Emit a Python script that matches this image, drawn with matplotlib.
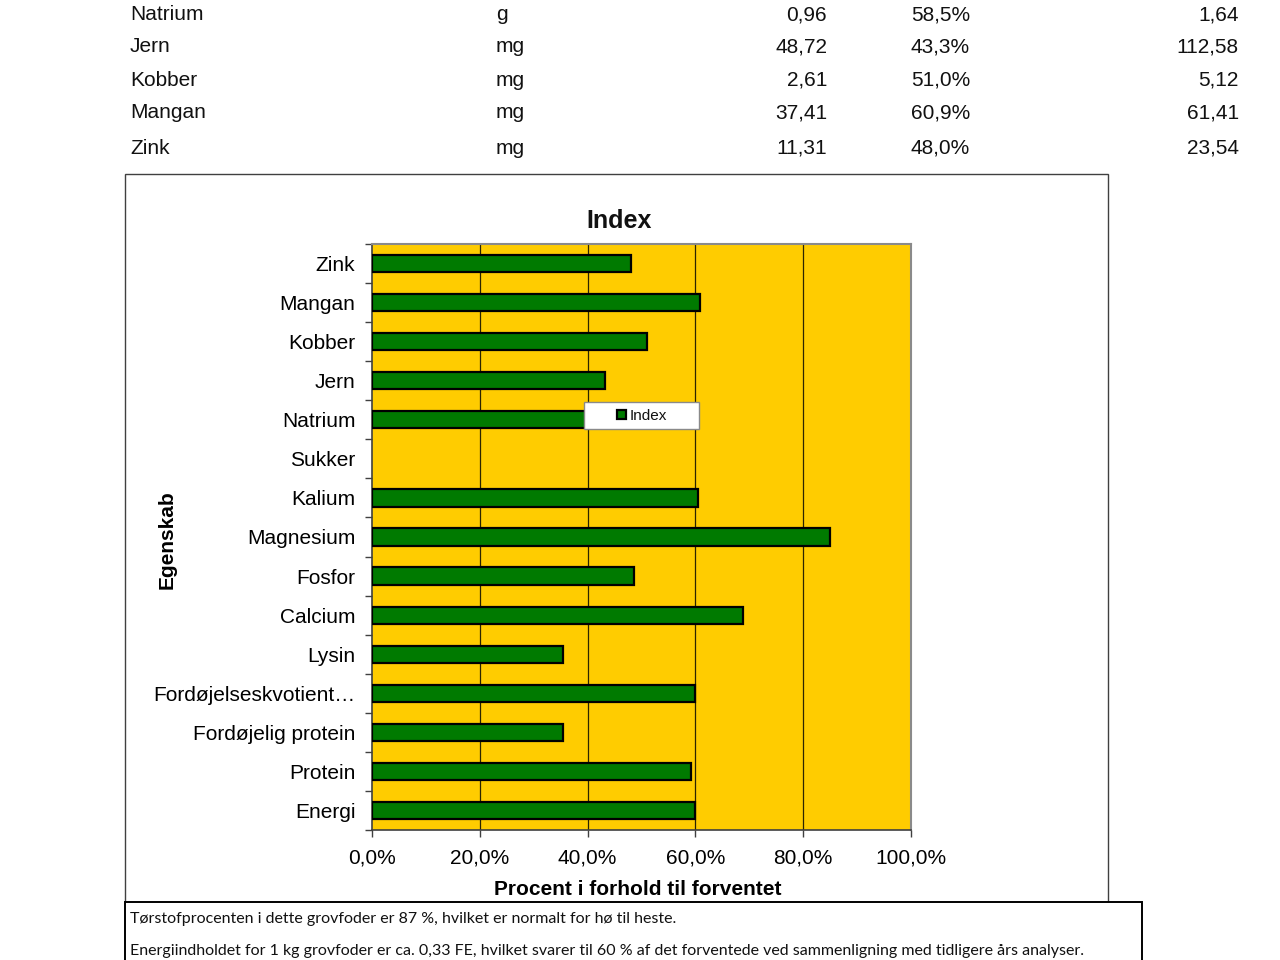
import matplotlib as mpl
import matplotlib.pyplot as plt
from matplotlib.patches import Rectangle
from matplotlib.ticker import FixedLocator, FuncFormatter

# chart data (bottom to top)
categories = [
    "Energi", "Protein", "Fordøjelig protein", "Fordøjelseskvotient…", "Lysin",
    "Calcium", "Fosfor", "Magnesium", "Kalium", "Sukker",
    "Natrium", "Jern", "Kobber", "Mangan", "Zink",
]
index_pct = [60.0, 59.2, 35.4, 60.0, 35.4, 68.9, 48.6, 85.0, 60.4, 0.0,
             58.5, 43.3, 51.0, 60.9, 48.0]
xticks_pct = [0, 20, 40, 60, 80, 100]

# table rows above the chart
tbl_names = ["Natrium", "Jern", "Kobber", "Mangan", "Zink"]
tbl_units = ["g", "mg", "mg", "mg", "mg"]
tbl_values = ["0,96", "48,72", "2,61", "37,41", "11,31"]
tbl_pct = ["58,5%", "43,3%", "51,0%", "60,9%", "48,0%"]
tbl_expected = ["1,64", "112,58", "5,12", "61,41", "23,54"]

note_lines = [
    "Tørstofprocenten i dette grovfoder er 87 %, hvilket er normalt for hø til heste.",
    "Energiindholdet for 1 kg grovfoder er ca. 0,33 FE, hvilket svarer til 60 % af det "
    "forventede ved sammenligning med tidligere års analyser.",
]

W, H = 1280, 960


def px_axes(fig, x0, y0, x1, y1, **kw):
    return fig.add_axes([x0 / W, 1 - y1 / H, (x1 - x0) / W, (y1 - y0) / H], **kw)


def draw_page(fig):
    bg = px_axes(fig, 0, 0, W, H, zorder=-1)
    bg.set_xlim(0, W)
    bg.set_ylim(H, 0)
    bg.axis("off")

    row_y = [15, 47, 80, 113, 148]
    for y, n, u, v, p, e in zip(row_y, tbl_names, tbl_units, tbl_values, tbl_pct, tbl_expected):
        bg.text(130, y, n, va="center", ha="left", fontsize=15)
        bg.text(496, y, u, va="center", ha="left", fontsize=15)
        bg.text(827, y, v, va="center", ha="right", fontsize=15)
        bg.text(970, y, p, va="center", ha="right", fontsize=15)
        bg.text(1239, y, e, va="center", ha="right", fontsize=15)

    # chart frame
    bg.add_patch(Rectangle((125, 174), 1108 - 125, 760, facecolor="white",
                           edgecolor="#404040", linewidth=1.0))
    # note box
    bg.add_patch(Rectangle((125, 902), 1142 - 125, 100, facecolor="white",
                           edgecolor="black", linewidth=1.4, zorder=5))
    bg.text(130, 919, note_lines[0], va="center", ha="left", fontsize=11.5,
            family="Lato", zorder=6)
    bg.text(130, 951, note_lines[1], va="center", ha="left", fontsize=11.5,
            family="Lato", zorder=6)


def draw_chart(fig):
    ax = px_axes(fig, 372, 244, 911, 830, zorder=1)
    ax.set_facecolor("#FFCC00")
    pos = list(range(len(categories)))
    widths = [1.6 if v > 0 else 0 for v in index_pct]
    bars = ax.barh(pos, index_pct, height=0.44, color="#007A00",
                   edgecolor="black", linewidth=widths, zorder=3, label="Index")

    ax.set_xlim(0, 100)
    ax.set_ylim(-0.5, len(categories) - 0.5)
    ax.set_xticks(xticks_pct)
    ax.xaxis.set_major_formatter(FuncFormatter(lambda v, _: f"{v:.1f}%".replace(".", ",")))
    ax.set_yticks(pos)
    ax.set_yticklabels(categories)
    ax.yaxis.set_minor_locator(FixedLocator([p - 0.5 for p in pos] + [len(pos) - 0.5]))
    ax.tick_params(axis="y", which="major", length=0, pad=12, labelsize=15)
    ax.tick_params(axis="y", which="minor", length=5, width=1, color="#404040")
    ax.tick_params(axis="x", length=5, width=1, color="#404040", pad=8, labelsize=15)

    for x in xticks_pct[1:-1]:
        ax.axvline(x, color="#2b2400", linewidth=0.9, zorder=1)

    for side in ["top", "right"]:
        ax.spines[side].set_color("#8a8a8a")
        ax.spines[side].set_linewidth(1.5)
    for side in ["left", "bottom"]:
        ax.spines[side].set_color("#404040")
        ax.spines[side].set_linewidth(1.2)

    ax.set_xlabel("Procent i forhold til forventet", fontsize=15, fontweight="bold")
    ax.xaxis.set_label_coords((638 - 372) / 539, (830 - 880) / 586)
    ax.set_ylabel("Egenskab", fontsize=15, fontweight="bold")
    ax.yaxis.set_label_coords((177 - 372) / 539, (830 - 540) / 586)

    fig.text(619 / W, 1 - 221 / H, "Index", fontsize=18, fontweight="bold",
             ha="center", va="center")

    # legend box
    fig.add_artist(Rectangle((584 / W, 1 - 429 / H), 115 / W, 27 / H,
                             transform=fig.transFigure, facecolor="white",
                             edgecolor="#8a8a8a", linewidth=1.0, zorder=4))
    leg = fig.legend(handles=[bars], loc="center", bbox_to_anchor=(642 / W, 1 - 416 / H),
                     frameon=False, fontsize=11, handlelength=0.6, handleheight=0.6,
                     handletextpad=0.2, borderpad=0)
    leg.set_zorder(6)
    return ax


if __name__ == "__main__":
    mpl.rcParams.update(
        {
            "font.family": ["Liberation Sans", "DejaVu Sans"],
            "text.color": "#111111",
        }
    )
    fig = plt.figure(figsize=(W / 100, H / 100), dpi=100)
    draw_page(fig)
    draw_chart(fig)
    fig.savefig("out.png", dpi=100)
